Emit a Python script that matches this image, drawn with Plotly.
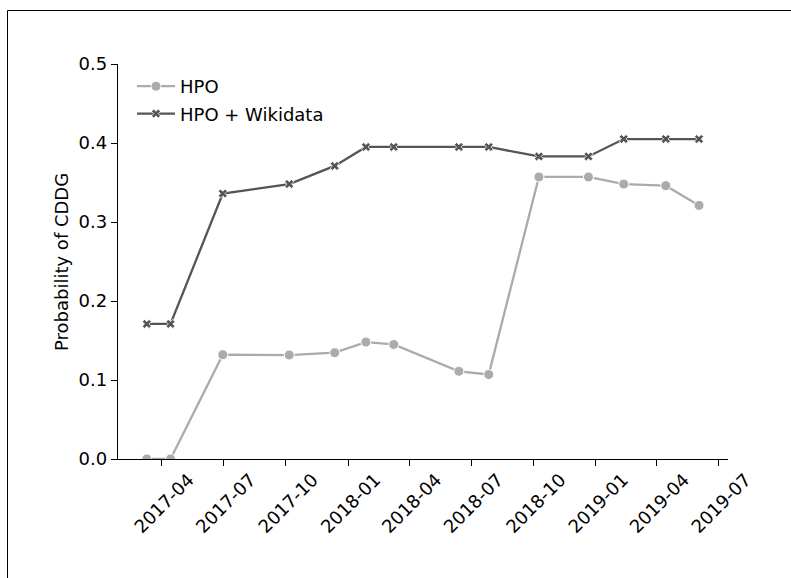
import plotly.graph_objects as go

dates = ["2017-03-10", "2017-04-14", "2017-06-30", "2017-10-06", "2017-12-12",
         "2018-01-27", "2018-03-09", "2018-06-13", "2018-07-27", "2018-10-09",
         "2018-12-21", "2019-02-11", "2019-04-14", "2019-06-02"]
hpo = [0.0, 0.0, 0.132, 0.1316, 0.1346, 0.148, 0.145, 0.111, 0.107,
       0.357, 0.357, 0.348, 0.346, 0.321]
hpo_wiki = [0.171, 0.171, 0.336, 0.348, 0.371, 0.395, 0.395, 0.395, 0.395,
            0.383, 0.383, 0.405, 0.405, 0.405]
tick_vals = ["2017-04-01", "2017-07-01", "2017-10-01", "2018-01-01", "2018-04-01",
             "2018-07-01", "2018-10-01", "2019-01-01", "2019-04-01", "2019-07-01"]
tick_text = ["2017-04", "2017-07", "2017-10", "2018-01", "2018-04",
             "2018-07", "2018-10", "2019-01", "2019-04", "2019-07"]
y_ticks = [0.0, 0.1, 0.2, 0.3, 0.4, 0.5]

FONT = "DejaVu Sans"
FS = 18
W, H = 791, 578
L, R, T, B = 118, 63, 64, 119
PW = W - L - R
PH = H - T - B

fig = go.Figure()
fig.add_trace(go.Scatter(
    x=dates, y=hpo, name="HPO", mode="lines+markers", legendgroup="a",
    line=dict(color="#ababab", width=2.3),
    marker=dict(symbol="circle", size=10, color="#ababab",
                line=dict(color="white", width=1)),
))
fig.add_trace(go.Scatter(
    x=dates, y=hpo_wiki, name="HPO + Wikidata", mode="lines+markers", legendgroup="b",
    line=dict(color="#555555", width=2.3),
    marker=dict(symbol="x", size=8, color="#555555",
                line=dict(color="white", width=0.8)),
))

fig.update_layout(
    width=W, height=H,
    margin=dict(l=L, r=R, t=T, b=B, autoexpand=False),
    paper_bgcolor="white", plot_bgcolor="white",
    font=dict(family=FONT, size=FS, color="black"),
    showlegend=True,
    legend=dict(x=(132 - L) / PW, y=1.0 - 4 / PH, xanchor="left", yanchor="top",
                bgcolor="rgba(0,0,0,0)", borderwidth=0,
                font=dict(family=FONT, size=FS), tracegroupgap=1,
                itemwidth=38),
    xaxis=dict(
        type="date",
        range=["2017-01-26 14:00", "2019-07-14 17:00"],
        tickmode="array", tickvals=tick_vals, ticktext=tick_text,
        tickangle=-45, ticks="outside", ticklen=6, tickwidth=1.2,
        tickcolor="black", showline=True, linecolor="black", linewidth=1.3,
        showgrid=False, zeroline=False, ticklabelshift=27,
        ticklabelstandoff=-4,
        tickfont=dict(family=FONT, size=FS),
    ),
    yaxis=dict(
        range=[0, 0.5], tickmode="array", tickvals=y_ticks,
        ticktext=[f"{v:.1f}" for v in y_ticks],
        ticks="outside", ticklen=6, tickwidth=1.2, tickcolor="black",
        showline=True, linecolor="black", linewidth=1.3,
        showgrid=False, zeroline=False,
        tickfont=dict(family=FONT, size=FS),
    ),
    annotations=[dict(
        text="Probability of CDDG", textangle=-90,
        xref="paper", yref="paper",
        x=(61 - L) / PW, y=(H - B - 262) / PH,
        xanchor="center", yanchor="middle", showarrow=False,
        font=dict(family=FONT, size=FS, color="black"),
    )],
    shapes=[
        dict(type="line", xref="paper", yref="paper",
             x0=(7.5 - L) / PW, x1=(W + 5 - L) / PW,
             y0=(H - B - 10.5) / PH, y1=(H - B - 10.5) / PH,
             line=dict(color="black", width=1)),
        dict(type="line", xref="paper", yref="paper",
             x0=(7.5 - L) / PW, x1=(7.5 - L) / PW,
             y0=(H - B - 10.5) / PH, y1=(H - B - H - 5) / PH,
             line=dict(color="black", width=1)),
    ],
)

fig.write_html("out.html", config={"displayModeBar": False},
               post_script="document.body.style.margin='0';")
